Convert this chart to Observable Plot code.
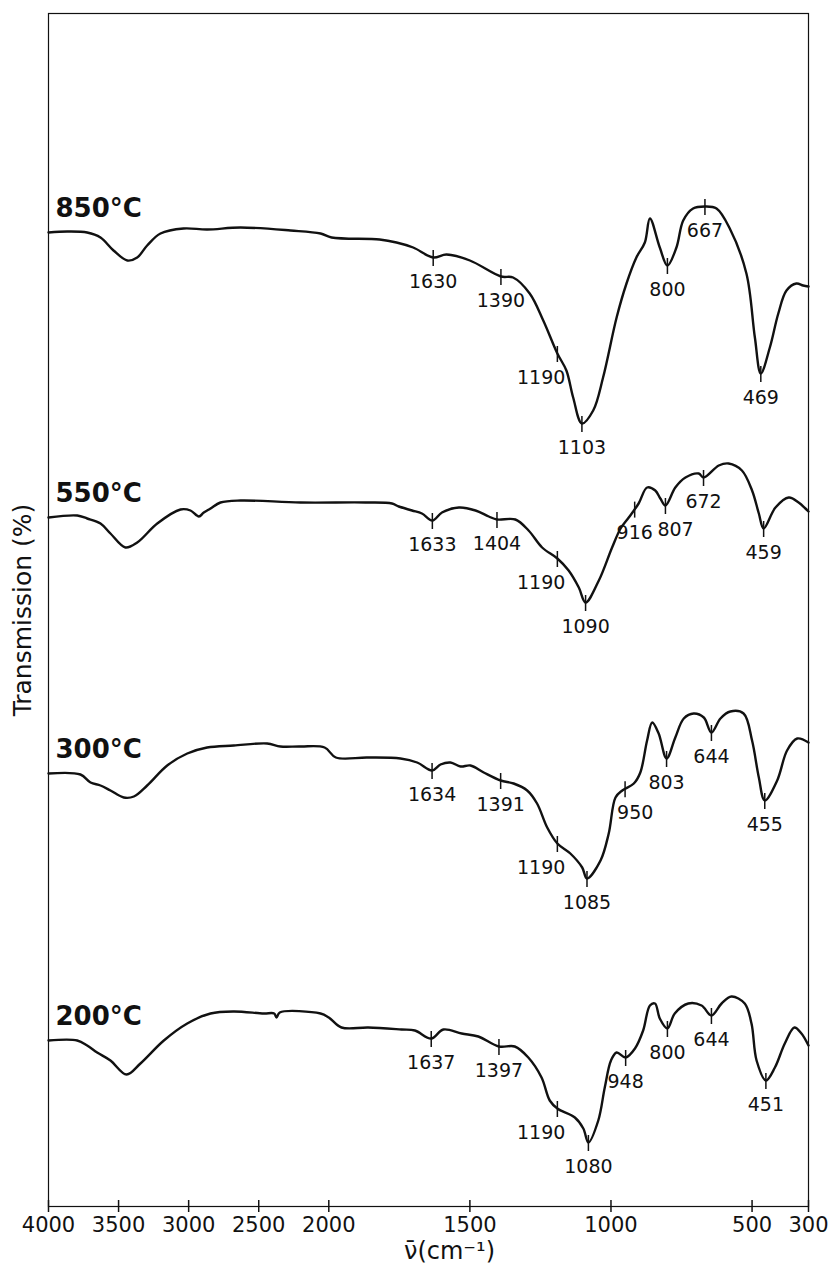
<!DOCTYPE html>
<html>
<head>
<meta charset="utf-8">
<script src="https://cdn.jsdelivr.net/npm/d3@7"></script>
<script src="https://cdn.jsdelivr.net/npm/@observablehq/plot@0.6"></script>
<style>
  body { margin: 0; background: #fff; }
</style>
</head>
<body>
<div id="chart"></div>
<script>
// IR transmission spectra of the samples calcined at four temperatures.
// Each spectrum is [wavenumber (cm^-1), transmission (arbitrary, stacked)].
const temperatures = ["850°C", "550°C", "300°C", "200°C"];

const spectrum850 = [
  [4000,97.4],[3867,97.5],[3724,97.4],[3629,96.9],[3536,95.6],[3438,94.6],[3367,94.9],[3296,96.1],
  [3201,97.3],[3037,97.8],[2868,97.7],[2630,97.9],[2273,97.6],[2059,97.3],[1990,96.9],[1820,96.7],
  [1760,96.4],[1701,95.9],[1630,94.9],[1583,95.2],[1500,94.6],[1390,93.0],[1347,92.9],[1288,91.3],
  [1240,88.6],[1190,85.3],[1158,83.6],[1134,80.9],[1103,78.3],[1063,79.6],[1028,82.9],[980,88.9],
  [945,92.3],[910,94.9],[880,96.4],[862,98.8],[827,95.9],[800,94.1],[768,95.9],[744,98.6],
  [709,99.8],[667,100.0],[626,99.8],[579,97.8],[520,93.3],[490,86.9],[469,83.3],[437,85.9],
  [407,89.3],[378,91.6],[343,92.3],[319,92.1],[300,92.0]
];

const spectrum550 = [
  [4000,68.9],[3795,69.1],[3724,68.8],[3629,68.3],[3558,67.3],[3451,65.9],[3367,66.4],[3224,68.3],
  [3058,69.7],[2987,69.6],[2927,69.0],[2892,69.4],[2844,69.8],[2773,70.4],[2630,70.6],[2202,70.4],
  [1870,70.4],[1776,70.3],[1752,70.0],[1705,69.6],[1670,69.3],[1633,68.6],[1599,69.4],[1539,69.9],
  [1480,69.6],[1433,69.0],[1404,68.7],[1339,68.7],[1292,67.6],[1244,65.9],[1190,64.8],[1150,63.6],
  [1114,61.9],[1090,60.4],[1043,62.6],[996,65.9],[966,67.8],[937,68.9],[902,70.3],[872,71.9],
  [843,71.6],[825,70.8],[807,70.1],[772,71.9],[736,72.9],[689,73.3],[672,72.9],[618,74.1],
  [583,74.3],[536,73.6],[500,71.6],[476,69.3],[459,67.8],[417,69.9],[370,70.9],[335,70.4],
  [311,69.8],[300,69.5]
];

const spectrum300 = [
  [4000,43.3],[3772,43.2],[3700,42.4],[3629,42.1],[3558,41.6],[3463,40.9],[3391,41.0],[3296,42.1],
  [3153,44.1],[3010,45.3],[2868,45.9],[2678,46.1],[2440,46.3],[2345,46.0],[2202,46.0],[2030,45.9],
  [1975,44.9],[1864,44.9],[1746,44.8],[1687,44.4],[1634,43.6],[1604,44.2],[1569,44.4],[1533,44.0],
  [1498,44.1],[1451,43.4],[1391,42.6],[1345,42.3],[1297,41.6],[1262,40.3],[1226,37.9],[1190,36.3],
  [1144,35.3],[1102,33.9],[1085,32.8],[1037,34.6],[1008,37.3],[984,40.9],[960,41.6],[919,42.3],
  [896,43.4],[872,46.6],[854,48.4],[831,47.3],[803,44.8],[772,46.9],[742,48.8],[707,49.3],
  [671,48.9],[644,47.4],[612,48.8],[577,49.5],[530,49.3],[500,46.6],[476,42.9],[455,40.6],
  [411,42.6],[376,45.6],[340,46.8],[300,46.4]
];

const spectrum200 = [
  [4000,16.6],[3795,16.6],[3724,16.1],[3653,15.4],[3558,14.6],[3443,13.2],[3344,14.3],[3177,16.6],
  [3010,18.3],[2844,19.3],[2678,19.5],[2464,19.3],[2390,19.3],[2373,18.9],[2350,19.4],[2059,19.3],
  [2000,18.9],[1955,17.9],[1860,17.9],[1742,17.7],[1695,17.6],[1637,16.8],[1594,17.7],[1529,17.3],
  [1470,17.0],[1397,16.0],[1341,16.0],[1293,14.9],[1246,12.9],[1217,10.6],[1190,9.8],[1128,8.9],
  [1098,7.8],[1080,6.4],[1045,8.6],[1022,11.9],[1000,14.6],[980,15.4],[948,14.9],[915,15.8],
  [886,17.6],[862,20.1],[844,20.3],[827,18.8],[800,17.8],[774,19.3],[726,20.3],[679,20.1],
  [644,19.1],[608,20.3],[573,21.0],[526,20.3],[502,18.3],[484,14.6],[451,12.6],[419,13.9],
  [384,16.3],[350,17.9],[325,17.3],[300,16.1]
];

// Assigned band positions (cm^-1) marked on each spectrum.
const peaks850 = [1630, 1390, 1190, 1103, 800, 667, 469];
const peaks550 = [1633, 1404, 1190, 1090, 916, 807, 672, 459];
const peaks300 = [1634, 1391, 1190, 1085, 950, 803, 644, 455];
const peaks200 = [1637, 1397, 1190, 1080, 948, 800, 644, 451];

const xTicks = [4000, 3500, 3000, 2500, 2000, 1500, 1000, 500, 300];

const spectra = {"850°C": spectrum850, "550°C": spectrum550, "300°C": spectrum300, "200°C": spectrum200};
const peaks = {"850°C": peaks850, "550°C": peaks550, "300°C": peaks300, "200°C": peaks200};

const rows = temperatures.flatMap(temp => spectra[temp].map(([w, t]) => ({temp, w, t})));

// Transmission of a spectrum at wavenumber w (linear between recorded points).
function transmissionAt(series, w) {
  for (let i = 0; i < series.length - 1; i++) {
    const [w0, t0] = series[i], [w1, t1] = series[i + 1];
    if (w <= w0 && w >= w1) return w0 === w1 ? t0 : t0 + (t1 - t0) * (w0 - w) / (w0 - w1);
  }
  return series[series.length - 1][1];
}

const peakRows = temperatures.flatMap(temp =>
  peaks[temp].map(w => ({temp, w, t: transmissionAt(spectra[temp], w)})));

// Shoulder labels are set beside the band instead of centred under it.
const leftSet = new Set([1190]);
const rightSet = new Set([950, 807]);
const centredLabels = peakRows.filter(d => !leftSet.has(d.w) && !rightSet.has(d.w));
const leftLabels = peakRows.filter(d => leftSet.has(d.w));
const rightLabels = peakRows.filter(d => rightSet.has(d.w));

const startRows = temperatures.map(temp => ({temp, w: spectra[temp][0][0], t: spectra[temp][0][1]}));

const ink = "#111";
const labelFont = 19;

const chart = Plot.plot({
  width: 834,
  height: 1275,
  marginLeft: 48,
  marginRight: 26,
  marginTop: 13,
  marginBottom: 69,
  style: {fontFamily: "'DejaVu Sans', sans-serif", background: "#fff", color: ink},
  // The spectrometer chart doubles its scale below 2000 cm^-1.
  x: {type: "linear", domain: [4000, 2000, 300], range: [48, 328.3, 808]},
  y: {domain: [0, 119.3], axis: null},
  marks: [
    Plot.frame({stroke: ink, strokeWidth: 1.2}),
    Plot.ruleX(xTicks, {y1: -0.6, y2: 0.6, stroke: ink, strokeWidth: 1.5}),
    Plot.axisX({ticks: xTicks, tickSize: 0, tickPadding: 11, tickFormat: d => String(d),
                fontSize: 21, label: null}),
    Plot.line(rows, {x: "w", y: "t", z: "temp", curve: "catmull-rom",
                     stroke: ink, strokeWidth: 2.4, strokeLinejoin: "round"}),
    Plot.ruleX(peakRows, {x: "w", y1: d => d.t + 0.7, y2: d => d.t - 0.9, stroke: ink, strokeWidth: 1.5}),
    Plot.text(centredLabels, {x: "w", y: "t", text: d => String(d.w), dy: 24, fontSize: labelFont, fill: ink}),
    Plot.text(leftLabels, {x: "w", y: "t", text: d => String(d.w), dy: 24, dx: 8,
                           textAnchor: "end", fontSize: labelFont, fill: ink}),
    Plot.text(rightLabels, {x: "w", y: "t", text: d => String(d.w), dy: 24, dx: -8,
                            textAnchor: "start", fontSize: labelFont, fill: ink}),
    Plot.text(startRows, {x: "w", y: "t", text: "temp", textAnchor: "start", lineAnchor: "bottom",
                          dx: 7, dy: -16, fontSize: 26, fontWeight: "bold", fill: ink}),
    Plot.text(["Transmission (%)"], {frameAnchor: "left", textAnchor: "middle", rotate: -90,
                                     dx: -26, fontSize: 25, fill: ink}),
    Plot.text(["ν̄(cm⁻¹)"], {frameAnchor: "bottom", dy: 52, dx: 21, fontSize: 24,
                              letterSpacing: 1.5, fill: ink})
  ]
});

document.getElementById("chart").append(chart);
</script>
</body>
</html>
